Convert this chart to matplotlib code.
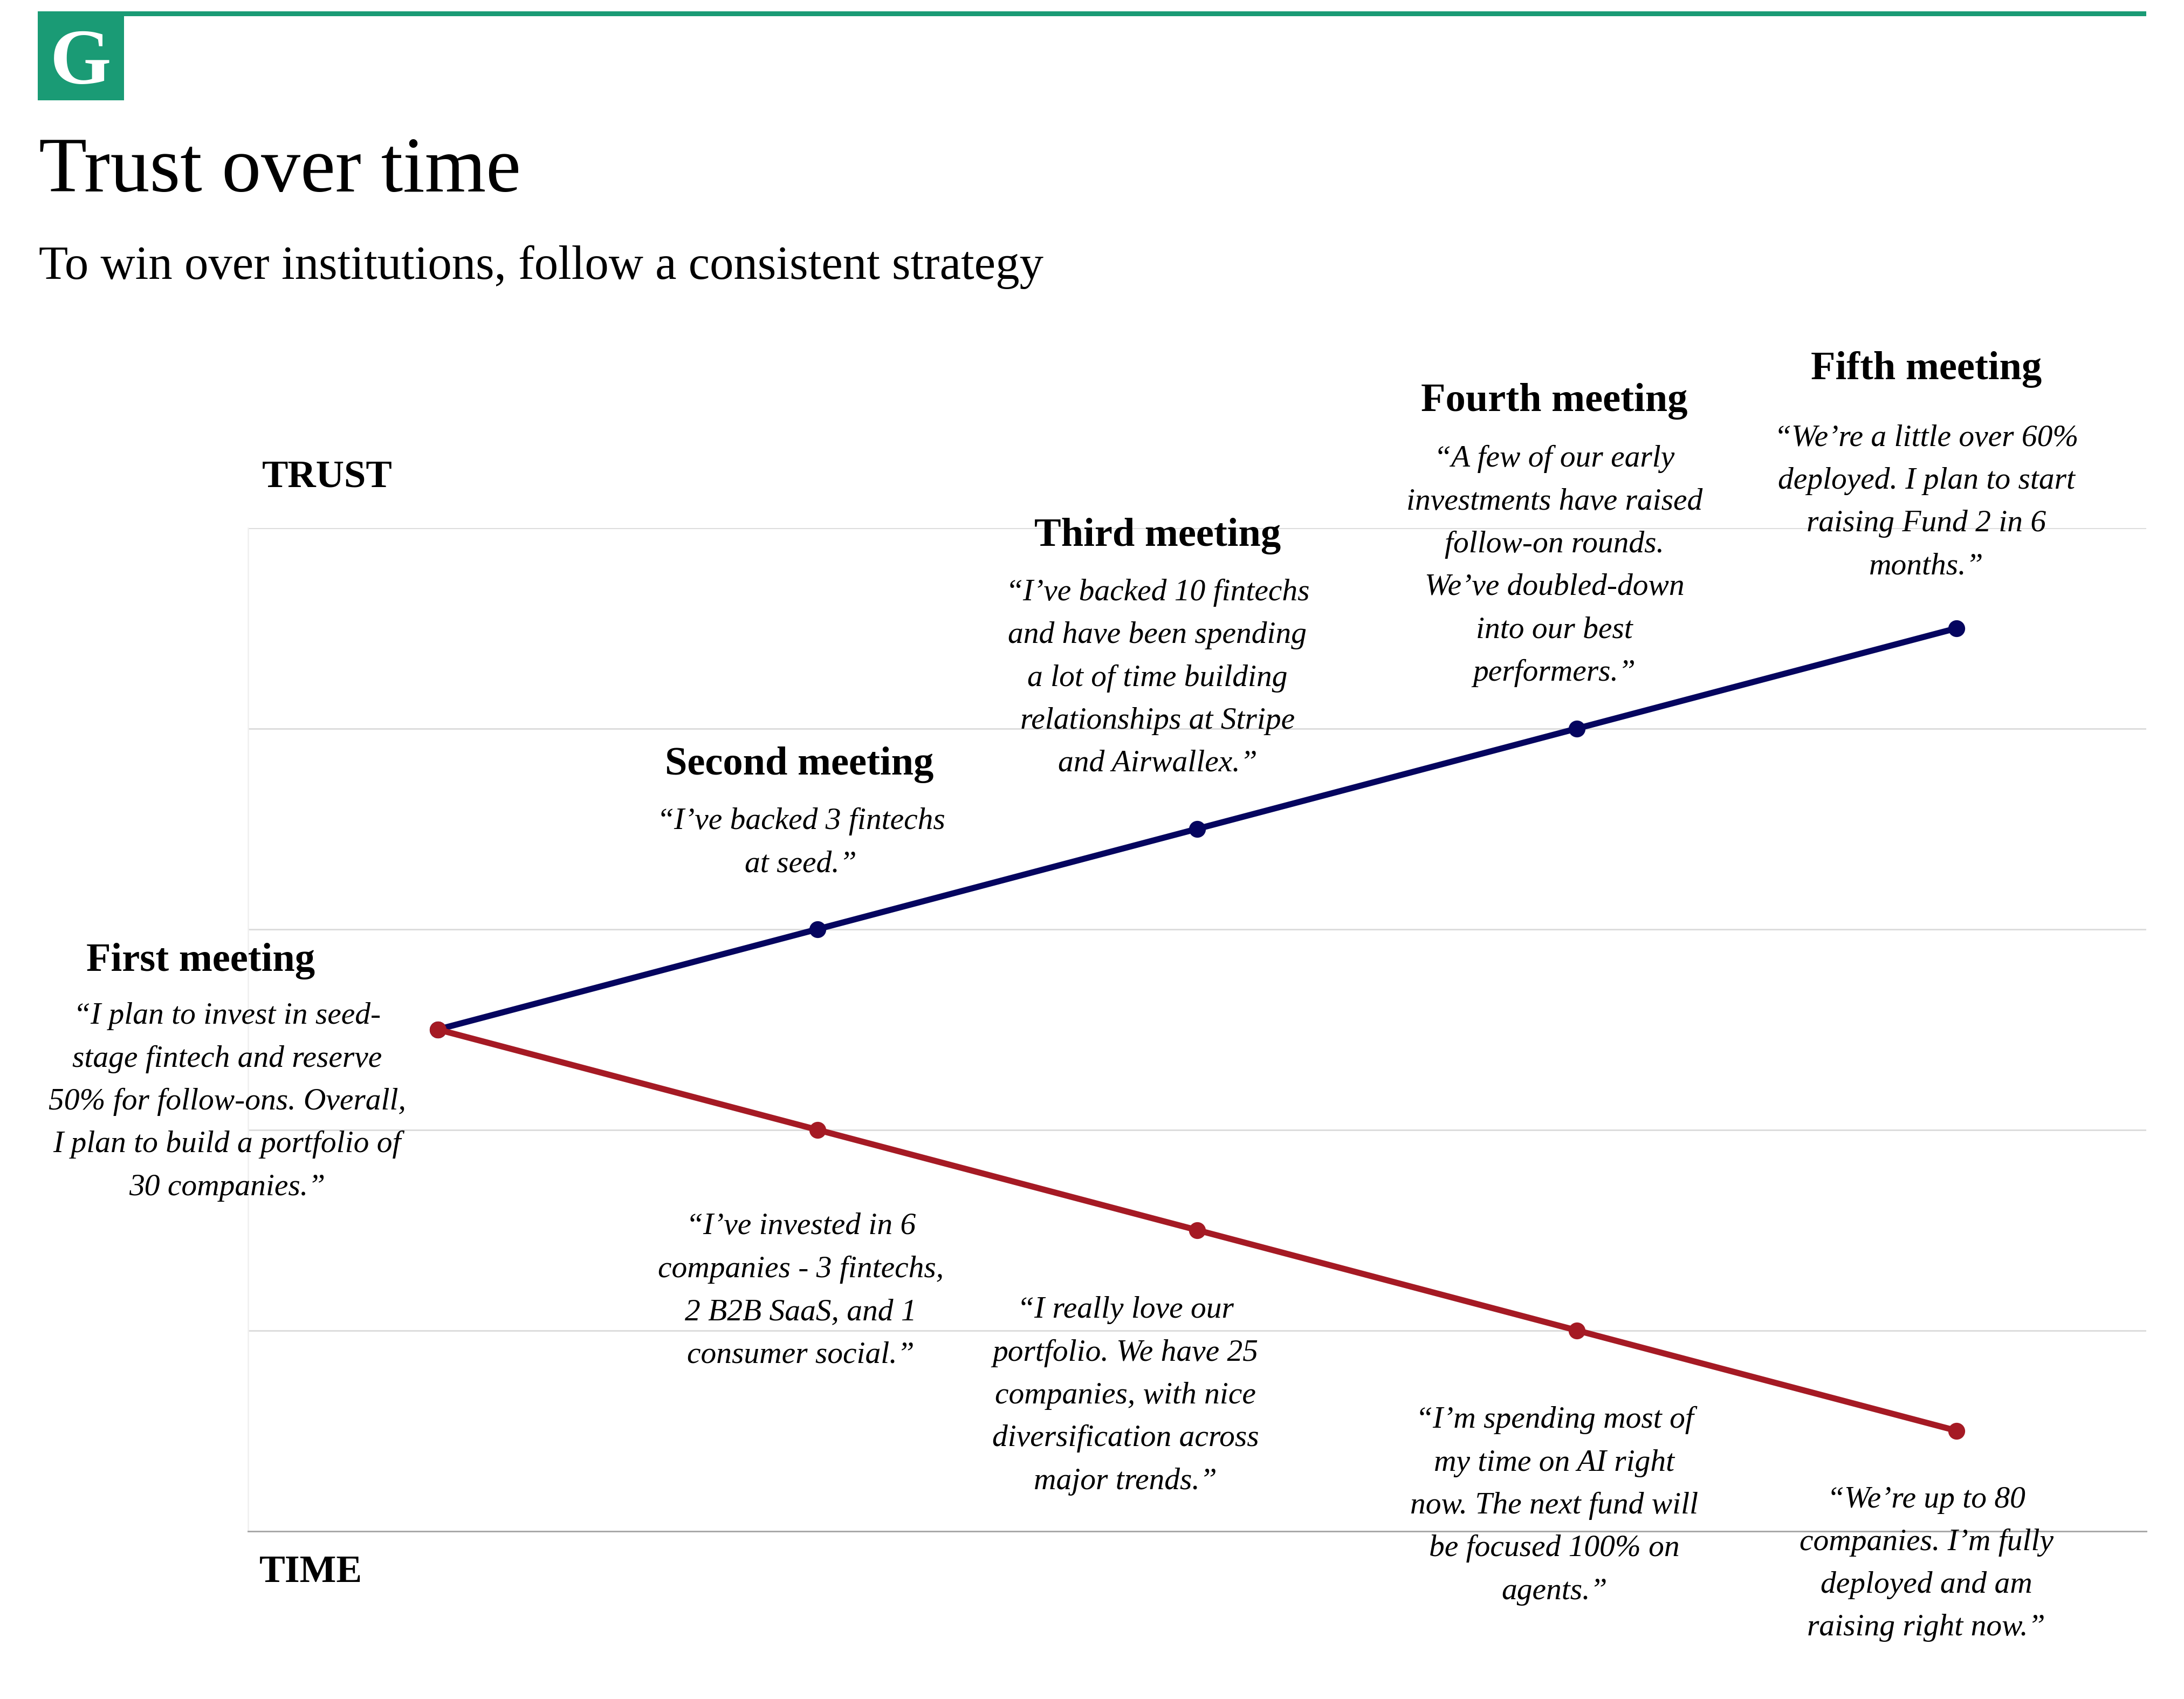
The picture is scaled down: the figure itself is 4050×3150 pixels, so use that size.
import matplotlib
matplotlib.use("Agg")
import matplotlib.pyplot as plt
from matplotlib.patches import Rectangle

# Sizes below are in px of a 1568 wide preview of the chart
W = 1568
H = 1219.6

plt.rcParams['font.family'] = ['Liberation Serif', 'DejaVu Serif']

meetings = ["First meeting", "Second meeting", "Third meeting", "Fourth meeting", "Fifth meeting"]
meeting_pos = [0.5, 1.5, 2.5, 3.5, 4.5]
trust_up = [2.5, 3.0, 3.5, 4.0, 4.5]
trust_down = [2.5, 2.0, 1.5, 1.0, 0.5]
grid_levels = [1, 2, 3, 4, 5]

upper_quotes = [
    ["“I plan to invest in seed-", "stage fintech and reserve", "50% for follow-ons. Overall,",
     "I plan to build a portfolio of", "30 companies.”"],
    ["“I’ve backed 3 fintechs", "at seed.”"],
    ["“I’ve backed 10 fintechs", "and have been spending", "a lot of time building",
     "relationships at Stripe", "and Airwallex.”"],
    ["“A few of our early", "investments have raised", "follow-on rounds.",
     "We’ve doubled-down", "into our best", "performers.”"],
    ["“We’re a little over 60%", "deployed. I plan to start", "raising Fund 2 in 6", "months.”"],
]
lower_quotes = [
    ["“I’ve invested in 6", "companies - 3 fintechs,", "2 B2B SaaS, and 1", "consumer social.”"],
    ["“I really love our", "portfolio. We have 25", "companies, with nice",
     "diversification across", "major trends.”"],
    ["“I’m spending most of", "my time on AI right", "now. The next fund will",
     "be focused 100% on", "agents.”"],
    ["“We’re up to 80", "companies. I’m fully", "deployed and am", "raising right now.”"],
]

# centre x, heading baseline, first quote baseline
upper_layout = [(163, 697, 735), (575, 556, 595), (831, 392, 431), (1116, 295, 335), (1383, 272, 320)]
heading_x = [144, 574, 831, 1116, 1383]
lower_layout = [(575, 886), (808, 946), (1116, 1025), (1383, 1082)]
line_gap = 30.7

GREEN = "#1a9b75"
NAVY = "#05055f"
RED = "#a51a24"


def fx(px):
    return px / W


def fy(px):
    return 1 - px / H


fig = plt.figure(figsize=(13.5, 10.5), dpi=300, facecolor="white")

ax = fig.add_axes([fx(178), fy(1099), fx(1541 - 178), (1099 - 379) / H])
ax.set_xlim(0, 5)
ax.set_ylim(0, 5)
ax.set_xticks([])
ax.set_yticks(grid_levels)
ax.tick_params(axis="y", length=0, labelleft=False)
ax.grid(axis="y", color="#dcdcdc", linewidth=0.7)
ax.set_axisbelow(True)
for side in ["top", "right"]:
    ax.spines[side].set_visible(False)
ax.spines["left"].set_color("#efefef")
ax.spines["left"].set_linewidth(0.6)
ax.spines["bottom"].set_color("#a8a8a8")
ax.spines["bottom"].set_linewidth(0.7)

ax.plot(meeting_pos, trust_up, color=NAVY, linewidth=2.7, marker="o", markersize=6.5, clip_on=False)
ax.plot(meeting_pos, trust_down, color=RED, linewidth=2.7, marker="o", markersize=6.5, clip_on=False)

# header rule and logo
fig.add_artist(Rectangle((fx(27), fy(11.6)), fx(1541 - 27), 3.5 / H, transform=fig.transFigure, color=GREEN, lw=0))
fig.add_artist(Rectangle((fx(27), fy(72)), fx(62), 64 / H, transform=fig.transFigure, color=GREEN, lw=0))
fig.text(fx(58), fy(60), "G", color="white", fontsize=35, fontweight="bold", ha="center", va="baseline")

fig.text(fx(28), fy(137.5), "Trust over time", fontsize=35, color="black", va="baseline")
fig.text(fx(28), fy(200), "To win over institutions, follow a consistent strategy", fontsize=21.3,
         color="black", va="baseline")

fig.text(fx(188), fy(350), "TRUST", fontsize=17.4, fontweight="bold", va="baseline")
fig.text(fx(186), fy(1135.5), "TIME", fontsize=17.2, fontweight="bold", va="baseline")

for name, hx, (cx, head_y, quote_y), lines in zip(meetings, heading_x, upper_layout, upper_quotes):
    fig.text(fx(hx), fy(head_y), name, fontsize=17.9, fontweight="bold", ha="center", va="baseline")
    for i, line in enumerate(lines):
        fig.text(fx(cx), fy(quote_y + i * line_gap), line, fontsize=13.8, style="italic",
                 ha="center", va="baseline")

for (cx, quote_y), lines in zip(lower_layout, lower_quotes):
    for i, line in enumerate(lines):
        fig.text(fx(cx), fy(quote_y + i * line_gap), line, fontsize=13.8, style="italic",
                 ha="center", va="baseline")

fig.savefig("out.png", dpi=300)
